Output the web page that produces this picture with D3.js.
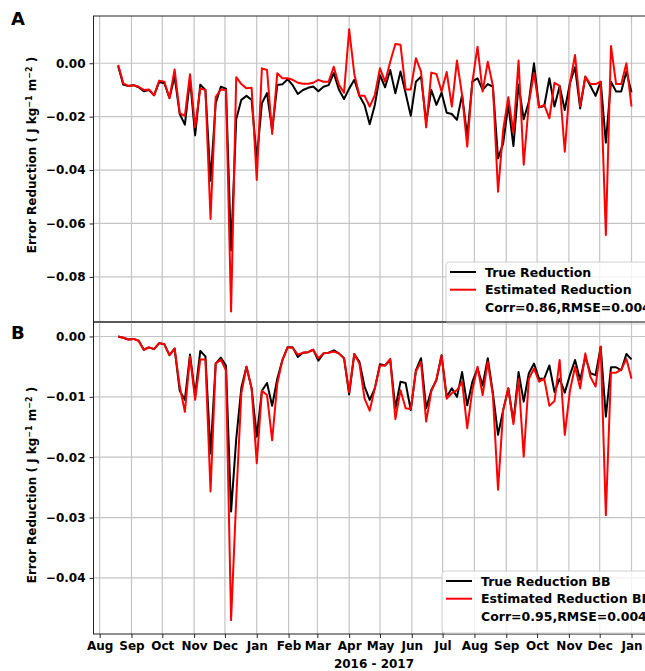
<!DOCTYPE html>
<html>
<head>
<meta charset="utf-8">
<title>Error Reduction</title>
<script src="https://cdn.jsdelivr.net/npm/d3@7"></script>
<style>
body { margin: 0; background: #fff; }
svg { display: block; font-family: "DejaVu Sans", sans-serif; font-weight: bold; }
.grid line { stroke: #c4c4c4; stroke-width: 1.2; }
</style>
</head>
<body>
<div id="chart"></div>
<script>
// 5-day samples starting 2016-08-19
var startDate = new Date(2016, 7, 19);
var stepDays = 5;

var trueA = [-0.001,-0.008,-0.0085,-0.0082,-0.009,-0.0105,-0.010,-0.012,-0.007,-0.0075,
  -0.013,-0.005,-0.019,-0.023,-0.006,-0.027,-0.008,-0.010,-0.044,-0.015,
  -0.0088,-0.0095,-0.070,-0.021,-0.0137,-0.0122,-0.0137,-0.036,-0.015,-0.0112,
  -0.025,-0.0081,-0.0079,-0.006,-0.0082,-0.0115,-0.010,-0.0092,-0.0087,-0.0105,
  -0.0088,-0.0082,-0.0037,-0.0098,-0.0134,-0.0095,-0.0062,-0.0122,-0.0156,-0.0228,
  -0.0156,-0.0044,-0.009,-0.0025,-0.0112,-0.0031,-0.0112,-0.0197,-0.0069,-0.005,
  -0.022,-0.010,-0.0156,-0.011,-0.0185,-0.019,-0.0212,-0.0119,-0.0275,-0.0069,
  -0.0056,-0.010,-0.0078,-0.0088,-0.0356,-0.030,-0.0156,-0.031,-0.008,-0.021,
  -0.0144,0.000,-0.0165,-0.016,-0.0056,-0.0162,-0.0085,-0.0175,-0.0075,-0.0015,
  -0.0169,-0.005,-0.0085,-0.0122,-0.0069,-0.0297,-0.0069,-0.0106,-0.0106,-0.0031,
  -0.0109];
var estA = [-0.0006,-0.0075,-0.0085,-0.0082,-0.0088,-0.0100,-0.0098,-0.0120,-0.0065,-0.0069,
  -0.0131,-0.0023,-0.0187,-0.0197,-0.0041,-0.024,-0.0094,-0.0100,-0.0583,-0.0127,
  -0.0098,-0.0100,-0.0930,-0.0052,-0.0078,-0.0094,-0.0092,-0.0437,-0.0019,-0.0025,
  -0.0265,-0.0037,-0.0056,-0.0056,-0.0062,-0.0073,-0.0077,-0.0077,-0.0073,-0.0062,
  -0.0069,-0.0069,-0.0013,-0.0081,-0.0110,0.0127,-0.0040,-0.0122,-0.0122,-0.0162,
  -0.0119,-0.0019,-0.0069,0.0006,0.0072,0.0069,-0.0098,-0.0098,0.0019,-0.0031,
  -0.024,-0.0035,-0.004,-0.0106,-0.0033,-0.0162,0.001,-0.0119,-0.0312,-0.007,
  0.0062,-0.0106,0.0006,-0.0085,-0.0481,-0.025,-0.0127,-0.026,0.001,-0.038,
  -0.015,-0.0037,-0.0165,-0.0156,-0.0206,-0.0073,-0.0085,-0.0331,-0.0075,0.0031,
  -0.016,-0.005,-0.0078,-0.0078,-0.0069,-0.0643,0.0065,-0.0078,-0.0078,0.000,
  -0.0162];
var trueB = [0.000,-0.0002,-0.0005,-0.0004,-0.0007,-0.0022,-0.0018,-0.0021,-0.0011,-0.0013,
  -0.0031,-0.0020,-0.0090,-0.0105,-0.0030,-0.0097,-0.0024,-0.0033,-0.0194,-0.0045,
  -0.0035,-0.0048,-0.029,-0.017,-0.0085,-0.005,-0.0086,-0.0166,-0.009,-0.0077,
  -0.0115,-0.007,-0.0039,-0.0018,-0.0018,-0.0034,-0.0027,-0.0026,-0.0022,-0.004,
  -0.0028,-0.0027,-0.0023,-0.0028,-0.0036,-0.0096,-0.0029,-0.0042,-0.0083,-0.0105,
  -0.0086,-0.0046,-0.0048,-0.0039,-0.0119,-0.0075,-0.0077,-0.0122,-0.0056,-0.0036,
  -0.0119,-0.0089,-0.0072,-0.0031,-0.0100,-0.0086,-0.0100,-0.0059,-0.0114,-0.0075,
  -0.0053,-0.0081,-0.0036,-0.0094,-0.0163,-0.0122,-0.0086,-0.0141,-0.0059,-0.0108,
  -0.0061,-0.0045,-0.0070,-0.0070,-0.0048,-0.0092,-0.0070,-0.0093,-0.0064,-0.0039,
  -0.0072,-0.0034,-0.0061,-0.0064,-0.0017,-0.0133,-0.0051,-0.0051,-0.0056,-0.0029,
  -0.0038];
var estB = [0.000,-0.0002,-0.0005,-0.0004,-0.0007,-0.0022,-0.0018,-0.0021,-0.0011,-0.0013,
  -0.0031,-0.0020,-0.0083,-0.0125,-0.0033,-0.0105,-0.0038,-0.0038,-0.0257,-0.0045,
  -0.0038,-0.0056,-0.047,-0.027,-0.0094,-0.005,-0.0086,-0.021,-0.009,-0.0097,
  -0.0172,-0.0078,-0.0039,-0.0018,-0.0019,-0.0030,-0.0027,-0.0026,-0.0022,-0.0036,
  -0.0028,-0.0027,-0.0025,-0.0028,-0.0036,-0.0092,-0.0029,-0.0045,-0.0103,-0.0123,
  -0.0086,-0.0048,-0.0048,-0.0037,-0.0137,-0.0089,-0.0119,-0.0120,-0.0058,-0.0042,
  -0.0141,-0.0091,-0.0071,-0.0032,-0.0103,-0.0094,-0.0089,-0.0075,-0.0152,-0.0089,
  -0.0050,-0.0097,-0.0042,-0.0098,-0.0254,-0.0122,-0.0086,-0.0145,-0.0070,-0.0199,
  -0.0070,-0.0053,-0.0075,-0.0070,-0.0115,-0.0107,-0.0039,-0.0163,-0.0090,-0.0050,
  -0.0086,-0.0028,-0.0067,-0.0083,-0.0017,-0.0296,-0.0060,-0.0060,-0.0055,-0.0037,
  -0.0070];

var ticksA = [0, -0.02, -0.04, -0.06, -0.08];
var ticksB = [0, -0.01, -0.02, -0.03, -0.04];
var legendA = ["True Reduction", "Estimated Reduction", "Corr=0.86,RMSE=0.004"];
var legendB = ["True Reduction BB", "Estimated Reduction BB", "Corr=0.95,RMSE=0.004"];

var W = 645, H = 671;
var left = 93.5, right = 650;

var svg = d3.select("#chart").append("svg").attr("width", W).attr("height", H);

var x = d3.scaleTime()
  .domain([new Date(2016, 6, 26), new Date(2018, 0, 19)])
  .range([left, right]);
var months = d3.timeMonth.range(new Date(2016, 7, 1), new Date(2018, 0, 2));
var dates = trueA.map(function(d, i) { return d3.timeDay.offset(startDate, i * stepDays); });

var fmt = function(d) { return d3.format(".2f")(d).replace("-", "\u2212"); };

function panel(top, bottom, domain, ticks, tv, ev, legend, letter, labelY, legBox) {
  var y = d3.scaleLinear().domain(domain).range([bottom, top]);
  var g = svg.append("g");

  // grid
  var grid = g.append("g").attr("class", "grid");
  grid.selectAll("line.v").data(months).enter().append("line")
    .attr("x1", function(d) { return x(d); }).attr("x2", function(d) { return x(d); })
    .attr("y1", top).attr("y2", bottom);
  grid.selectAll("line.h").data(ticks).enter().append("line")
    .attr("x1", left).attr("x2", W).attr("y1", function(d) { return y(d); }).attr("y2", function(d) { return y(d); });

  var line = d3.line().x(function(d, i) { return x(dates[i]); }).y(function(d) { return y(d); });
  g.append("path").datum(tv).attr("d", line).attr("fill", "none")
    .attr("stroke", "#000").attr("stroke-width", 2).attr("stroke-linejoin", "round");
  g.append("path").datum(ev).attr("d", line).attr("fill", "none")
    .attr("stroke", "#ff0000").attr("stroke-width", 2).attr("stroke-linejoin", "round");

  // y axis
  var ax = g.append("g").attr("transform", "translate(" + left + ",0)")
    .call(d3.axisLeft(y).tickValues(ticks).tickFormat(fmt).tickSize(4).tickPadding(4));
  ax.select(".domain").remove();
  ax.selectAll("text").attr("font-size", 12).attr("font-family", "DejaVu Sans").attr("font-weight", "bold").attr("fill", "#000");
  ax.selectAll("line").attr("stroke", "#222");

  // frame
  g.append("rect").attr("x", left).attr("y", top).attr("width", right + 20 - left).attr("height", bottom - top)
    .attr("fill", "none").attr("stroke", "#222").attr("stroke-width", 1);

  // y label
  var lab = g.append("text").attr("transform", "translate(36," + labelY + ") rotate(-90)")
    .attr("text-anchor", "middle").attr("font-size", 12);
  lab.append("tspan").text("Error Reduction ( J kg");
  lab.append("tspan").attr("baseline-shift", "super").attr("font-size", 8).text("\u22121");
  lab.append("tspan").text(" m");
  lab.append("tspan").attr("baseline-shift", "super").attr("font-size", 8).text("\u22122");
  lab.append("tspan").text(" )");

  g.append("text").attr("x", 11).attr("y", top + (letter === "A" ? 9 : 17)).attr("font-size", 18).text(letter);

  // legend
  var lg = g.append("g");
  lg.append("rect").attr("x", legBox[0]).attr("y", legBox[1]).attr("width", 260).attr("height", legBox[2])
    .attr("rx", 3).attr("fill", "#fff").attr("fill-opacity", 0.8).attr("stroke", "#d0d0d0");
  var colors = ["#000", "#ff0000", null];
  legend.forEach(function(t, i) {
    var cy = legBox[1] + 10 + i * 17.7;
    if (colors[i]) {
      lg.append("line").attr("x1", legBox[0] + 4).attr("x2", legBox[0] + 30)
        .attr("y1", cy).attr("y2", cy).attr("stroke", colors[i]).attr("stroke-width", 2);
    }
    lg.append("text").attr("x", legBox[0] + 39).attr("y", cy + 4.5).attr("font-size", 12.5).text(t);
  });
  return y;
}

panel(16, 322, [-0.0969, 0.0177], ticksA, trueA, estA, legendA, "A", 155, [446, 262, 62]);
panel(322, 634, [-0.0493, 0.0024], ticksB, trueB, estB, legendB, "B", 485, [442, 571, 62]);

// x axis
var xa = svg.append("g").attr("transform", "translate(0,634)")
  .call(d3.axisBottom(x).tickValues(months).tickFormat(d3.timeFormat("%b")).tickSize(4).tickPadding(3));
xa.select(".domain").remove();
xa.selectAll("text").attr("font-size", 12).attr("font-family", "DejaVu Sans").attr("font-weight", "bold").attr("fill", "#000");
xa.selectAll("line").attr("stroke", "#222");

svg.append("text").attr("x", 374).attr("y", 668).attr("text-anchor", "middle").attr("font-size", 12).text("2016 - 2017");
</script>
</body>
</html>
